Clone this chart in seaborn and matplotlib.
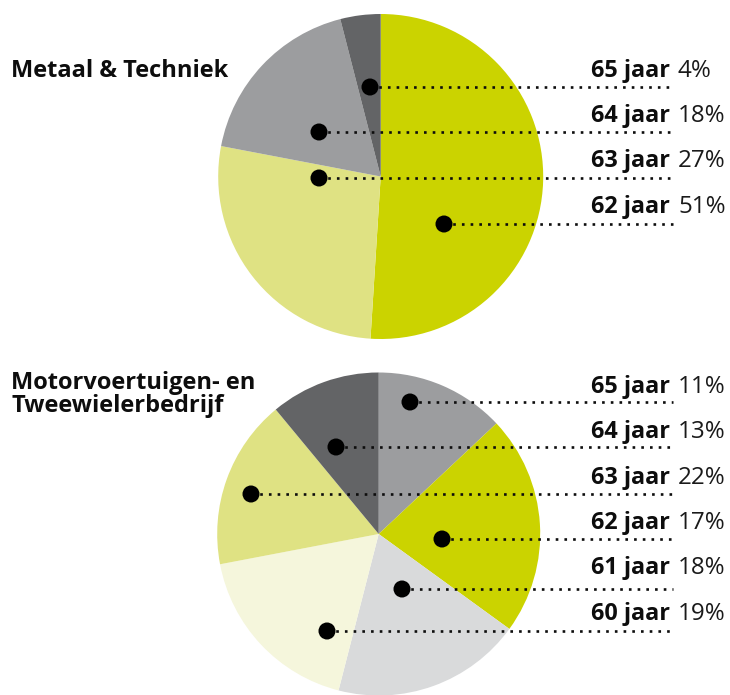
import matplotlib
matplotlib.use("Agg")
import matplotlib.pyplot as plt
import seaborn as sns
import pandas as pd

# Metaal & Techniek
top_title = "Metaal & Techniek"
top_ages = ["65 jaar", "64 jaar", "63 jaar", "62 jaar"]
top_pct = [4, 18, 27, 51]
top_slice_order = ["62 jaar", "63 jaar", "64 jaar", "65 jaar"]  # clockwise from 12 o'clock
top_colors = {"62 jaar": "#cbd300", "63 jaar": "#dfe283",
              "64 jaar": "#9c9d9f", "65 jaar": "#636466"}

# Motorvoertuigen- en Tweewielerbedrijf
bottom_title = "Motorvoertuigen- en\nTweewielerbedrijf"
bottom_ages = ["65 jaar", "64 jaar", "63 jaar", "62 jaar", "61 jaar", "60 jaar"]
bottom_pct = [11, 13, 22, 17, 18, 19]
bottom_slice_order = ["64 jaar", "63 jaar", "60 jaar", "61 jaar", "62 jaar", "65 jaar"]
bottom_colors = {"64 jaar": "#9c9d9f", "63 jaar": "#cbd300", "60 jaar": "#d9dadb",
                 "61 jaar": "#f5f6dc", "62 jaar": "#dfe283", "65 jaar": "#636466"}

# layout (pixel coordinates, y down)
W, H = 730, 695
panels = [
    dict(title=top_title, ages=top_ages, pct=top_pct, order=top_slice_order,
         colors=top_colors, center=(380.7, 176.5), radius=162.5,
         title_y=76.7, label_y0=76.7,
         dot_x=[370, 319, 319, 444], line_y=[87, 132, 178, 224]),
    dict(title=bottom_title, ages=bottom_ages, pct=bottom_pct, order=bottom_slice_order,
         colors=bottom_colors, center=(378.7, 534), radius=161.5,
         title_y=389, label_y0=393,
         dot_x=[410, 336, 251, 442, 402, 327], line_y=[402, 447, 494, 539, 589, 631]),
]

sns.set_style("white")
plt.rcParams["font.family"] = ["Open Sans", "DejaVu Sans"]

fig = plt.figure(figsize=(W / 100, H / 100), dpi=100)
ax = fig.add_axes([0, 0, 1, 1])

for p in panels:
    vals = dict(zip(p["ages"], p["pct"]))
    sizes = [vals[a] for a in p["order"]]
    cols = [p["colors"][a] for a in p["order"]]
    # y axis is inverted, so start at -90 and go "counterclock" to get clockwise from top
    ax.pie(sizes, colors=cols, startangle=-90, counterclock=True,
           center=p["center"], radius=p["radius"],
           wedgeprops=dict(linewidth=0))

    # title
    for i, line in enumerate(p["title"].split("\n")):
        ax.text(11, p["title_y"] + i * 23.5, line, fontsize=17, fontweight="bold",
                color="#0d0d0d", ha="left", va="baseline")

    # leader lines + labels
    for i, (age, pct) in enumerate(zip(p["ages"], p["pct"])):
        ly = p["line_y"][i]
        ax.plot([p["dot_x"][i], 673], [ly, ly], color="#0d0d0d", lw=1.9,
                linestyle=(0, (1, 2.3)), solid_capstyle="butt", dash_capstyle="butt",
                zorder=3)
        ty = p["label_y0"] + i * 45.3
        ax.text(670, ty, age, fontsize=16.8, fontweight="bold", color="#0d0d0d",
                ha="right", va="baseline")
        ax.text(678, ty, f"{pct}%", fontsize=17.4, color="#1a1a1a",
                ha="left", va="baseline")

    dots = pd.DataFrame({"x": p["dot_x"], "y": p["line_y"]})
    sns.scatterplot(data=dots, x="x", y="y", ax=ax, s=150, color="black",
                    edgecolor="none", zorder=4, legend=False)

ax.set_xlim(0, W)
ax.set_ylim(H, 0)
ax.set_aspect("equal")
ax.axis("off")

fig.savefig("out.png", dpi=100, facecolor="white")
